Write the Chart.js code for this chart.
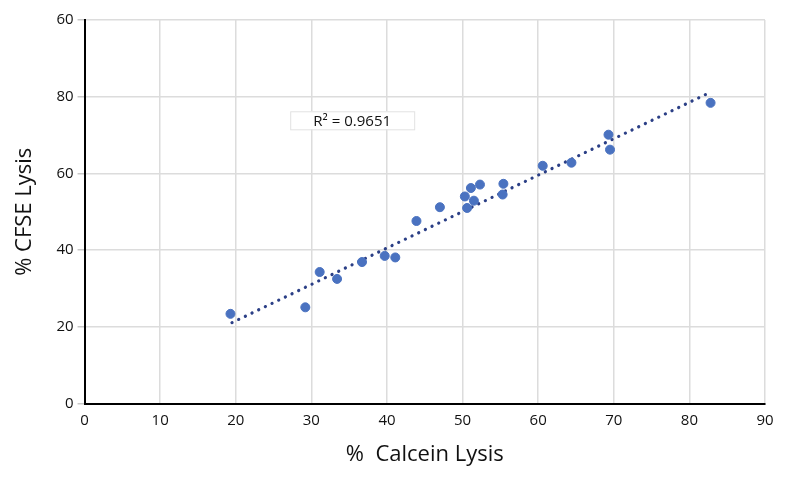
<!DOCTYPE html>
<html>
<head>
<meta charset="utf-8">
<script src="https://cdn.jsdelivr.net/npm/chart.js@4"></script>
<style>
  body { margin: 0; background: #fff; }
  #wrap { width: 786px; height: 477px; }
</style>
</head>
<body>
<div id="wrap"><canvas id="chart" width="786" height="477"></canvas></div>
<script>
// data
var calceinLysis = [19.3, 29.2, 31.1, 33.4, 36.7, 39.7, 41.1, 43.9, 47.0, 50.3, 50.6, 51.1, 51.5, 52.3, 55.3, 55.4, 60.6, 64.4, 69.3, 69.5, 82.8];
var cfseLysis = [23.4, 25.1, 34.3, 32.5, 36.9, 38.5, 38.1, 47.6, 51.2, 54.0, 51.0, 56.2, 52.9, 57.1, 54.5, 57.3, 62.0, 62.8, 70.1, 66.2, 78.4];
var trendX = [19.5, 82.8];
var trendY = [21.1, 81.2];
var rSquaredText = 'R\u00b2 = 0.9651';
var xTicks = [0, 10, 20, 30, 40, 50, 60, 70, 80, 90];
var yTickValues = [0, 20, 40, 60, 80, 100];
var yTickLabels = ['0', '20', '40', '60', '80', '60'];

var points = [];
for (var i = 0; i < calceinLysis.length; i++) {
  points.push({ x: calceinLysis[i], y: cfseLysis[i] });
}
var trend = [];
for (var j = 0; j < trendX.length; j++) {
  trend.push({ x: trendX[j], y: trendY[j] });
}

var fontFamily = '"Open Sans", "Noto Sans", sans-serif';

// R squared box drawn at a spot in data space
var rLabel = {
  id: 'rLabel',
  afterDatasetsDraw: function(chart) {
    var ctx = chart.ctx;
    var xs = chart.scales.x, ys = chart.scales.y;
    var left = xs.getPixelForValue(27.2), right = xs.getPixelForValue(43.6);
    var top = ys.getPixelForValue(76.2), bottom = ys.getPixelForValue(71.5);
    ctx.save();
    ctx.fillStyle = '#fff';
    ctx.fillRect(left, top, right - left, bottom - top);
    ctx.strokeStyle = '#e2e2e2';
    ctx.lineWidth = 1;
    ctx.strokeRect(left + 0.5, top + 0.5, right - left, bottom - top);
    ctx.fillStyle = '#111';
    ctx.font = '15px ' + fontFamily;
    ctx.textAlign = 'center';
    ctx.textBaseline = 'middle';
    ctx.fillText(rSquaredText, (left + right) / 2, (top + bottom) / 2 + 1);
    ctx.restore();
  }
};

var ctx = document.getElementById('chart').getContext('2d');
var chart = new Chart(ctx, {
  type: 'scatter',
  data: {
    datasets: [
      {
        label: 'trend',
        data: trend,
        type: 'line',
        showLine: true,
        borderColor: '#2b3f86',
        borderWidth: 3.2,
        borderDash: [0.1, 7.3],
        borderCapStyle: 'round',
        pointRadius: 0,
        fill: false,
        order: 2
      },
      {
        label: 'samples',
        data: points,
        backgroundColor: '#4a72c0',
        borderColor: '#4a72c0',
        pointRadius: 4.5,
        pointHoverRadius: 4.5,
        order: 1
      }
    ]
  },
  options: {
    responsive: false,
    animation: false,
    layout: { padding: { top: 20, right: 21, left: 12, bottom: 9 } },
    plugins: {
      legend: { display: false },
      tooltip: { enabled: false }
    },
    scales: {
      x: {
        type: 'linear',
        min: 0,
        max: 90,
        afterBuildTicks: function(axis) {
          axis.ticks = xTicks.map(function(v) { return { value: v }; });
        },
        border: { color: '#000', width: 2 },
        grid: { color: '#dcdcdc', lineWidth: 1.5, tickLength: 0 },
        ticks: { color: '#111', padding: 8, font: { family: fontFamily, size: 15 } },
        title: {
          display: true,
          text: '%  Calcein Lysis',
          color: '#111',
          padding: { top: 4, bottom: 0 },
          font: { family: fontFamily, size: 22 }
        }
      },
      y: {
        type: 'linear',
        min: 0,
        max: 100,
        afterBuildTicks: function(axis) {
          axis.ticks = yTickValues.map(function(v) { return { value: v }; });
        },
        border: { color: '#000', width: 2 },
        grid: { color: '#dcdcdc', lineWidth: 1.5, tickLength: 7, tickColor: '#c8c8c8' },
        ticks: {
          color: '#111',
          padding: 4,
          font: { family: fontFamily, size: 15 },
          callback: function(value) {
            var k = yTickValues.indexOf(value);
            return k >= 0 ? yTickLabels[k] : '';
          }
        },
        title: {
          display: true,
          text: '% CFSE Lysis',
          color: '#111',
          padding: { top: 0, bottom: 14 },
          font: { family: fontFamily, size: 22 }
        }
      }
    }
  },
  plugins: [rLabel]
});
</script>
</body>
</html>
